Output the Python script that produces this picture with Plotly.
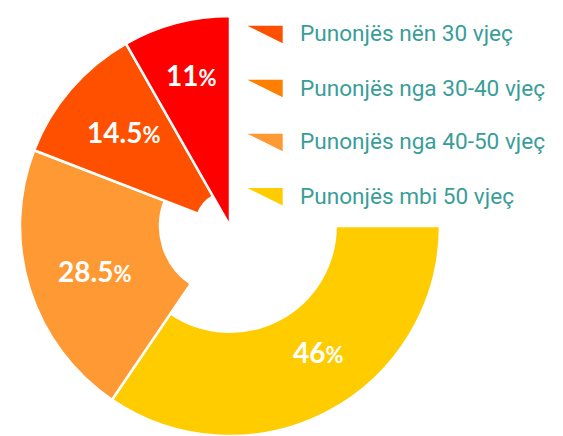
import math
import plotly.graph_objects as go

# ---------------- data ----------------
categories = ["Punonjës nën 30 vjeç", "Punonjës nga 30-40 vjeç",
              "Punonjës nga 40-50 vjeç", "Punonjës mbi 50 vjeç"]
shares = [11, 14.5, 28.5, 46]
slice_colors = ["#FF0000", "#FF5000", "#FF9933", "#FFCC00"]
legend_colors = ["#FF5000", "#FF7F00", "#FF9933", "#FFCC00"]

# ---------------- layout constants ----------------
W, H = 563, 436
CX, CY = 230.0, 226.0          # pie centre (px)
R = min(CY, H - CY)            # pie radius (px)

# the ring sweeps 3/4 of the circle, the top-right quarter stays empty
gap_value = sum(shares) / 3.0
values = shares + [gap_value]
total = sum(values)

# plotly puts the first counter-clockwise slice just right of 12 o'clock;
# rotate so the first slice starts at 12 o'clock and runs to the left
rotation = -shares[0] / total * 360

# each slice has its own inner radius (fraction of the outer radius)
holes = [0.0, 0.163, 0.333, 0.503]

dom_x = [(CX - R) / W, (CX + R) / W]
dom_y = [max(0.0, 1 - (CY + R) / H), min(1.0, 1 - (CY - R) / H)]

fig = go.Figure()

# draw from last slice to first so the red wedge sits on top
for i in reversed(range(len(shares))):
    cols = ["rgba(0,0,0,0)"] * len(values)
    cols[i] = slice_colors[i]
    lw = [0] * len(values)
    lw[i] = 2.5
    fig.add_trace(go.Pie(
        values=values,
        labels=categories + ["gap"],
        sort=False,
        direction="counterclockwise",
        rotation=rotation,
        hole=holes[i],
        marker=dict(colors=cols, line=dict(color="white", width=lw)),
        textinfo="none",
        hoverinfo="skip",
        showlegend=False,
        domain=dict(x=dom_x, y=dom_y),
    ))

# percentage labels, placed near each slice's bisector
label_r = [156, 142, 143, 154]
label_nudge_deg = [-0.7, -0.5, 1.0, 7.0]
annotations = []
start = 0.0
for i, v in enumerate(shares):
    mid = (start + v / 2) / total * 360 + label_nudge_deg[i]
    start += v
    a = math.radians(mid)
    px = CX - label_r[i] * math.sin(a)
    py = CY - label_r[i] * math.cos(a)
    annotations.append(dict(
        x=px / W, y=1 - py / H, xref="paper", yref="paper",
        xanchor="center", yanchor="middle", showarrow=False,
        text=f"<b>{v:g}<span style='font-size:22px'>%</span></b>",
        font=dict(family="Lato, 'Open Sans', sans-serif", size=28, color="white"),
    ))

# custom legend with wedge-shaped swatches
shapes = []
row_y = [34.5, 88.5, 142.5, 196.7]
for i, name in enumerate(categories):
    yc = row_y[i]
    x0, x1 = 247.3, 282.7
    y0, y1 = yc - 8.8, yc + 8.8
    path = (f"M {x0/W} {1-y0/H} L {x1/W} {1-y0/H} L {x1/W} {1-y1/H} Z")
    shapes.append(dict(type="path", xref="paper", yref="paper", path=path,
                       fillcolor=legend_colors[i], line=dict(width=0)))
    annotations.append(dict(
        x=297.5 / W, y=1 - (yc - 0.5) / H, xref="paper", yref="paper",
        xanchor="left", yanchor="middle", showarrow=False, text=name,
        font=dict(family="Roboto, 'Liberation Sans', sans-serif",
                  size=22.6, color="#3A9D99"),
    ))

fig.update_layout(
    width=W, height=H,
    margin=dict(l=0, r=0, t=0, b=0),
    paper_bgcolor="white", plot_bgcolor="white",
    showlegend=False,
    annotations=annotations,
    shapes=shapes,
)

fig.write_html("out.html", config={"displayModeBar": False},
               post_script="document.body.style.margin='0px';")
